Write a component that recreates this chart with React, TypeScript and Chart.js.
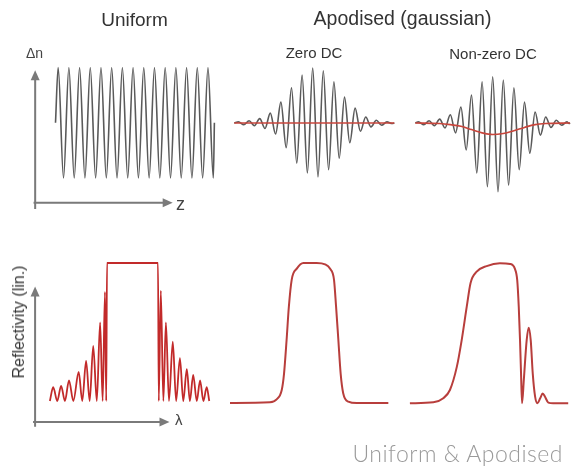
import React, { useEffect, useRef } from "react";
import { Chart, registerables } from "chart.js";

Chart.register(...registerables);

const W = 573;
const H = 474;

// ---- Top row: refractive index modulation (z in grating periods, Δn normalised) ----
const uniformZ = [0, 0.25, 0.75, 1.25, 1.75, 2.25, 2.75, 3.25, 3.75, 4.25, 4.75, 5.25, 5.75, 6.25, 6.75, 7.25, 7.75, 8.25, 8.75, 9.25, 9.75, 10.25, 10.75, 11.25, 11.75, 12.25, 12.75, 13.25, 13.75, 14.25, 14.75, 14.85];
const uniformDn = [0, 1, -1, 1, -1, 1, -1, 1, -1, 1, -1, 1, -1, 1, -1, 1, -1, 1, -1, 1, -1, 1, -1, 1, -1, 1, -1, 1, -1, 1, -1, 0];

const zeroDcZ = [-7.4, -7, -6.5, -6, -5.5, -5, -4.5, -4, -3.5, -3, -2.5, -2, -1.5, -1, -0.5, 0, 0.5, 1, 1.5, 2, 2.5, 3, 3.5, 4, 4.5, 5, 5.5, 6, 6.5, 7, 7.5, 7.7];
const zeroDcDn = [0, 0.02, -0.03, 0.04, -0.05, 0.08, -0.1, 0.18, -0.2, 0.38, -0.45, 0.64, -0.73, 0.87, -0.91, 1.0, -0.98, 0.95, -0.85, 0.75, -0.64, 0.47, -0.36, 0.27, -0.15, 0.11, -0.07, 0.05, -0.04, 0.02, -0.01, 0];
const zeroDcLineZ = [-7.4, 7.7];
const zeroDcLine = [0, 0];

const nonZeroZ = [-7.3, -7, -6.5, -6, -5.5, -5, -4.5, -4, -3.5, -3, -2.5, -2, -1.5, -1, -0.5, 0, 0.5, 1, 1.5, 2, 2.5, 3, 3.5, 4, 4.5, 5, 5.5, 6, 6.5, 7, 7.2, 7.3];
const nonZeroDn = [0, 0.02, -0.03, 0.04, -0.05, 0.07, -0.09, 0.15, -0.18, 0.29, -0.49, 0.51, -0.91, 0.75, -1.16, 0.84, -1.25, 0.78, -1.13, 0.64, -0.85, 0.38, -0.55, 0.2, -0.22, 0.11, -0.08, 0.05, -0.04, 0.02, -0.01, 0];
const nonZeroDcZ = [-7.3, -5, -4, -3, -2, -1, 0, 1, 2, 3, 4, 5, 7.3];
const nonZeroDc = [0, -0.01, -0.03, -0.06, -0.12, -0.18, -0.21, -0.19, -0.14, -0.08, -0.03, -0.01, 0];

// ---- Bottom row: reflectivity (linear) vs detuning ----
const uniformLambda = [-3.24, -3.11, -2.95, -2.8, -2.65, -2.49, -2.32, -2.11, -1.97, -1.82, -1.68, -1.54, -1.4, -1.27, -1.17, -1.08, -1.03, -1.0, 1.0, 1.03, 1.11, 1.21, 1.31, 1.43, 1.58, 1.71, 1.86, 1.99, 2.13, 2.25, 2.38, 2.52, 2.65, 2.78, 2.91, 3.01];
const uniformR = [0, 0.1, 0, 0.11, 0, 0.15, 0, 0.21, 0, 0.29, 0, 0.4, 0, 0.57, 0, 0.79, 0, 1, 1, 0, 0.8, 0, 0.57, 0, 0.43, 0, 0.31, 0, 0.23, 0, 0.19, 0, 0.15, 0, 0.1, 0];

const zeroDcLambda = [-3.24, -1.67, -1.41, -1.21, -1.12, -1.02, -0.93, -0.82, -0.62, -0.36, 0.16, 0.49, 0.68, 0.84, 0.92, 1.01, 1.1, 1.2, 1.4, 1.73, 2.97];
const zeroDcR = [0, 0.005, 0.026, 0.093, 0.21, 0.45, 0.69, 0.88, 0.96, 1.0, 1.0, 0.99, 0.96, 0.88, 0.69, 0.45, 0.21, 0.07, 0.01, 0, 0];

const nonZeroLambda = [-3.2, -2.28, -1.89, -1.63, -1.36, -1.17, -0.97, -0.82, -0.58, -0.19, 0.33, 0.73, 0.92, 1.01, 1.07, 1.12, 1.16, 1.2, 1.27, 1.38, 1.46, 1.54, 1.62, 1.71, 1.8, 1.91, 2.01, 2.1, 2.23, 2.42, 3.01];
const nonZeroR = [0, 0.007, 0.036, 0.095, 0.26, 0.45, 0.69, 0.86, 0.94, 0.98, 1.0, 0.995, 0.96, 0.88, 0.69, 0.45, 0.21, 0, 0.17, 0.45, 0.54, 0.45, 0.21, 0.05, 0, 0.036, 0.07, 0.047, 0.005, 0, 0];

// axis arrow extents (data units of each panel): [xFrom, xTo, yAt, yFrom, yTo, xAt]
const uniformIndexAxes = [-2.05, 10.95, -1.45, -1.56, 0.95, -1.9];
const uniformReflAxes = [-3.9, 1.45, -0.152, -0.186, 0.83, -3.82];

const GREY = "#5a5a5a";
const RED_DC = "#c8463c";
const RED_UNI = "#c22a2a";
const RED_APO = "#b83e3c";
const AXIS = "#7a7a7a";
const FONT = "'Liberation Sans', Arial, Helvetica, sans-serif";

function pts(xs: number[], ys: number[]) {
  return xs.map((x, i) => ({ x, y: ys[i] }));
}

function curve(xs: number[], ys: number[], color: string, width: number, smooth = true) {
  return {
    data: pts(xs, ys),
    borderColor: color,
    borderWidth: width,
    pointRadius: 0,
    fill: false,
    clip: false as any,
    tension: 0,
    cubicInterpolationMode: smooth ? "monotone" : "default",
  };
}

type Spec = {
  area: { left: number; top: number; right: number; bottom: number };
  x: [number, number];
  y: [number, number];
  axes?: number[];
  datasets: any[];
};

const arrowAxes = {
  id: "arrowAxes",
  afterDatasetsDraw(chart: any, _args: any, opts: any) {
    const a = opts && opts.extent;
    if (!a) return;
    const xs = chart.scales.x;
    const ys = chart.scales.y;
    const [xFrom, xTo, yAt, yFrom, yTo, xAt] = a;
    const ctx = chart.ctx as CanvasRenderingContext2D;
    const hx0 = xs.getPixelForValue(xFrom);
    const hx1 = xs.getPixelForValue(xTo);
    const hy = ys.getPixelForValue(yAt);
    const vx = xs.getPixelForValue(xAt);
    const vy0 = ys.getPixelForValue(yFrom);
    const vy1 = ys.getPixelForValue(yTo);
    const L = 10;
    const hw = 4.5;
    ctx.save();
    ctx.strokeStyle = AXIS;
    ctx.fillStyle = AXIS;
    ctx.lineWidth = 2;
    ctx.beginPath();
    ctx.moveTo(hx0, hy);
    ctx.lineTo(hx1 - L + 1, hy);
    ctx.moveTo(vx, vy0);
    ctx.lineTo(vx, vy1 + L - 1);
    ctx.stroke();
    ctx.beginPath();
    ctx.moveTo(hx1, hy);
    ctx.lineTo(hx1 - L, hy - hw);
    ctx.lineTo(hx1 - L, hy + hw);
    ctx.closePath();
    ctx.fill();
    ctx.beginPath();
    ctx.moveTo(vx, vy1);
    ctx.lineTo(vx - hw, vy1 + L);
    ctx.lineTo(vx + hw, vy1 + L);
    ctx.closePath();
    ctx.fill();
    ctx.restore();
  },
};

const specs: Spec[] = [
  {
    area: { left: 34.1, top: 67.5, right: 216, bottom: 211.15 },
    x: [-2, 15],
    y: [-1.6, 1.0],
    axes: uniformIndexAxes,
    datasets: [curve(uniformZ, uniformDn, GREY, 1.6)],
  },
  {
    area: { left: 227.9, top: 40.5, right: 397.5, bottom: 205.5 },
    x: [-8, 8],
    y: [-1.5, 1.5],
    datasets: [curve(zeroDcLineZ, zeroDcLine, RED_DC, 1.6, false), curve(zeroDcZ, zeroDcDn, GREY, 1.6)],
  },
  {
    area: { left: 407.9, top: 40.5, right: 572.2, bottom: 205.5 },
    x: [-8, 7.5],
    y: [-1.5, 1.5],
    datasets: [curve(nonZeroDcZ, nonZeroDc, RED_DC, 1.6), curve(nonZeroZ, nonZeroDn, GREY, 1.6)],
  },
  {
    area: { left: 33.05, top: 256.1, right: 211.55, bottom: 428.6 },
    x: [-3.9, 3.1],
    y: [-0.2, 1.05],
    axes: uniformReflAxes,
    datasets: [curve(uniformLambda, uniformR, RED_UNI, 1.8)],
  },
  {
    area: { left: 223.35, top: 249, right: 394.2, bottom: 431 },
    x: [-3.5, 3.2],
    y: [-0.2, 1.1],
    datasets: [curve(zeroDcLambda, zeroDcR, RED_APO, 2)],
  },
  {
    area: { left: 402.25, top: 249.3, right: 572.8, bottom: 431.3 },
    x: [-3.5, 3.19],
    y: [-0.2, 1.1],
    datasets: [curve(nonZeroLambda, nonZeroR, RED_APO, 2)],
  },
];

function Panel({ spec }: { spec: Spec }) {
  const ref = useRef<HTMLCanvasElement | null>(null);
  useEffect(() => {
    if (!ref.current) return;
    const axisOpts = (min: number, max: number) => ({
      type: "linear" as const,
      min,
      max,
      display: false,
    });
    const chart = new Chart(ref.current, {
      type: "line",
      data: { datasets: spec.datasets },
      options: {
        animation: false,
        responsive: false,
        events: [],
        layout: {
          padding: {
            left: spec.area.left,
            top: spec.area.top,
            right: W - spec.area.right,
            bottom: H - spec.area.bottom,
          },
        },
        plugins: {
          legend: { display: false },
          tooltip: { enabled: false },
          arrowAxes: { extent: spec.axes || null },
        } as any,
        scales: {
          x: axisOpts(spec.x[0], spec.x[1]),
          y: axisOpts(spec.y[0], spec.y[1]),
        },
      },
      plugins: [arrowAxes],
    });
    return () => chart.destroy();
  }, [spec]);
  return <canvas ref={ref} width={W} height={H} style={{ position: "absolute", left: 0, top: 0 }} />;
}

function Label(props: {
  text: string;
  x: number;
  baseline: number;
  size: number;
  align?: "left" | "center" | "right";
  color?: string;
  family?: string;
  weight?: number | string;
  k?: number;
  spacing?: number;
}) {
  const { text, x, baseline, size, align = "left", color = "#333", family = FONT, weight = 400, k = 0.85, spacing = 0 } = props;
  const tx = align === "center" ? "translateX(-50%)" : align === "right" ? "translateX(-100%)" : "none";
  return (
    <div
      style={{
        position: "absolute",
        left: x,
        top: baseline - k * size,
        fontSize: size,
        lineHeight: `${size}px`,
        fontFamily: family,
        fontWeight: weight as any,
        color,
        whiteSpace: "nowrap",
        transform: tx,
        letterSpacing: spacing,
      }}
    >
      {text}
    </div>
  );
}

export default function App() {
  return (
    <div style={{ position: "absolute", left: 0, top: 0, width: W, height: H, background: "#fff", overflow: "hidden" }}>
      {specs.map((s, i) => (
        <Panel key={i} spec={s} />
      ))}
      <Label text="Uniform" x={134.5} baseline={25.7} size={19} align="center" />
      <Label text="Apodised (gaussian)" x={402.5} baseline={26} size={19.5} align="center" />
      <Label text="Zero DC" x={314} baseline={57.8} size={15} align="center" />
      <Label text="Non-zero DC" x={493} baseline={58.5} size={15} align="center" />
      <Label text="Δn" x={26} baseline={58} size={14} color="#444" />
      <Label text="z" x={176} baseline={210} size={18} color="#444" />
      <Label text="λ" x={175} baseline={425} size={15} color="#444" />
      <div
        style={{
          position: "absolute",
          left: 19,
          top: 321.7,
          fontSize: 16,
          lineHeight: "16px",
          fontFamily: FONT,
          color: "#333",
          whiteSpace: "nowrap",
          transform: "translate(-50%, -50%) rotate(-90deg)",
        }}
      >
        Reflectivity (lin.)
      </div>
      <Label text="Uniform & Apodised" x={563} baseline={462} size={23} align="right" color="#9a9a9a" family="Lato, 'Open Sans', sans-serif" weight={300} k={0.89} spacing={0.5} />
    </div>
  );
}
